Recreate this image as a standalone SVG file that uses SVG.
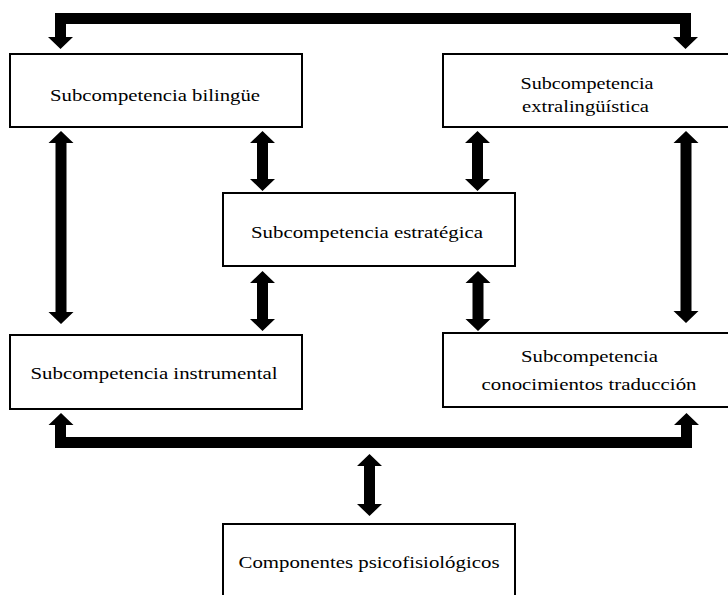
<svg xmlns="http://www.w3.org/2000/svg" width="728" height="595" viewBox="0 0 728 595">
  <style>
    .box { fill: #ffffff; stroke: #000000; stroke-width: 2; }
    .lbl { font-family: "Liberation Serif", "DejaVu Serif", serif; font-size: 17px; fill: #000000; text-anchor: middle; }
    .arw { fill: #000000; stroke: none; }
  </style>
  <rect width="728" height="595" fill="#ffffff"/>

  <!-- connectors: thick block arrows -->
  <g id="connectors">
    <!-- top bracket between bilingual and extralinguistic -->
    <path class="arw" d="M55,13 H691 V37 H698 L685.5,49 L673,37 H680 V24 H66 V37 H73 L60.5,49 L48,37 H55 Z"/>
    <!-- bottom bracket between instrumental and translation knowledge -->
    <path class="arw" d="M55,448 H692 V425 H699 L686.5,413 L674,425 H681 V437 H66 V425 H73.5 L61,413 L48.5,425 H55 Z"/>
    <!-- vertical double arrows -->
    <polygon class="arw" points="61,131 73.5,143 66.5,143 66.5,312 73.5,312 61,324 48.5,312 55.5,312 55.5,143 48.5,143"/>
    <polygon class="arw" points="262.5,131 275,143 268,143 268,179 275,179 262.5,191 250,179 257,179 257,143 250,143"/>
    <polygon class="arw" points="477.5,131 490,143 483,143 483,179 490,179 477.5,191 465,179 472,179 472,143 465,143"/>
    <polygon class="arw" points="686,131 698.5,143 691.5,143 691.5,311 698.5,311 686,323 673.5,311 680.5,311 680.5,143 673.5,143"/>
    <polygon class="arw" points="262.5,271 275,283 268,283 268,319 275,319 262.5,331 250,319 257,319 257,283 250,283"/>
    <polygon class="arw" points="478,271 490.5,283 483.5,283 483.5,319 490.5,319 478,331 465.5,319 472.5,319 472.5,283 465.5,283"/>
    <polygon class="arw" points="369.5,454 382,466 375,466 375,504 382,504 369.5,516 357,504 364,504 364,466 357,466"/>
  </g>

  <g id="bilingue">
    <rect class="box" x="10" y="54" width="292" height="73"/>
    <text class="lbl" x="155" y="101" textLength="210" lengthAdjust="spacingAndGlyphs">Subcompetencia bilingüe</text>
  </g>

  <g id="extralinguistica">
    <rect class="box" x="443" y="54" width="290" height="73"/>
    <text class="lbl" x="587" y="89" textLength="133" lengthAdjust="spacingAndGlyphs">Subcompetencia</text>
    <text class="lbl" x="585.5" y="112" textLength="127" lengthAdjust="spacingAndGlyphs">extralingüística</text>
  </g>

  <g id="estrategica">
    <rect class="box" x="223" y="193" width="292" height="73"/>
    <text class="lbl" x="367" y="238" textLength="232" lengthAdjust="spacingAndGlyphs">Subcompetencia estratégica</text>
  </g>

  <g id="instrumental">
    <rect class="box" x="10" y="335" width="292" height="74"/>
    <text class="lbl" x="154" y="379" textLength="247" lengthAdjust="spacingAndGlyphs">Subcompetencia instrumental</text>
  </g>

  <g id="conocimientos">
    <rect class="box" x="443" y="333" width="290" height="74"/>
    <text class="lbl" x="589.5" y="362" textLength="137" lengthAdjust="spacingAndGlyphs">Subcompetencia</text>
    <text class="lbl" x="589" y="390" textLength="215" lengthAdjust="spacingAndGlyphs">conocimientos traducción</text>
  </g>

  <g id="psicofisiologicos">
    <rect class="box" x="223" y="524" width="292" height="80"/>
    <text class="lbl" x="369" y="568" textLength="261" lengthAdjust="spacingAndGlyphs">Componentes psicofisiológicos</text>
  </g>
</svg>
